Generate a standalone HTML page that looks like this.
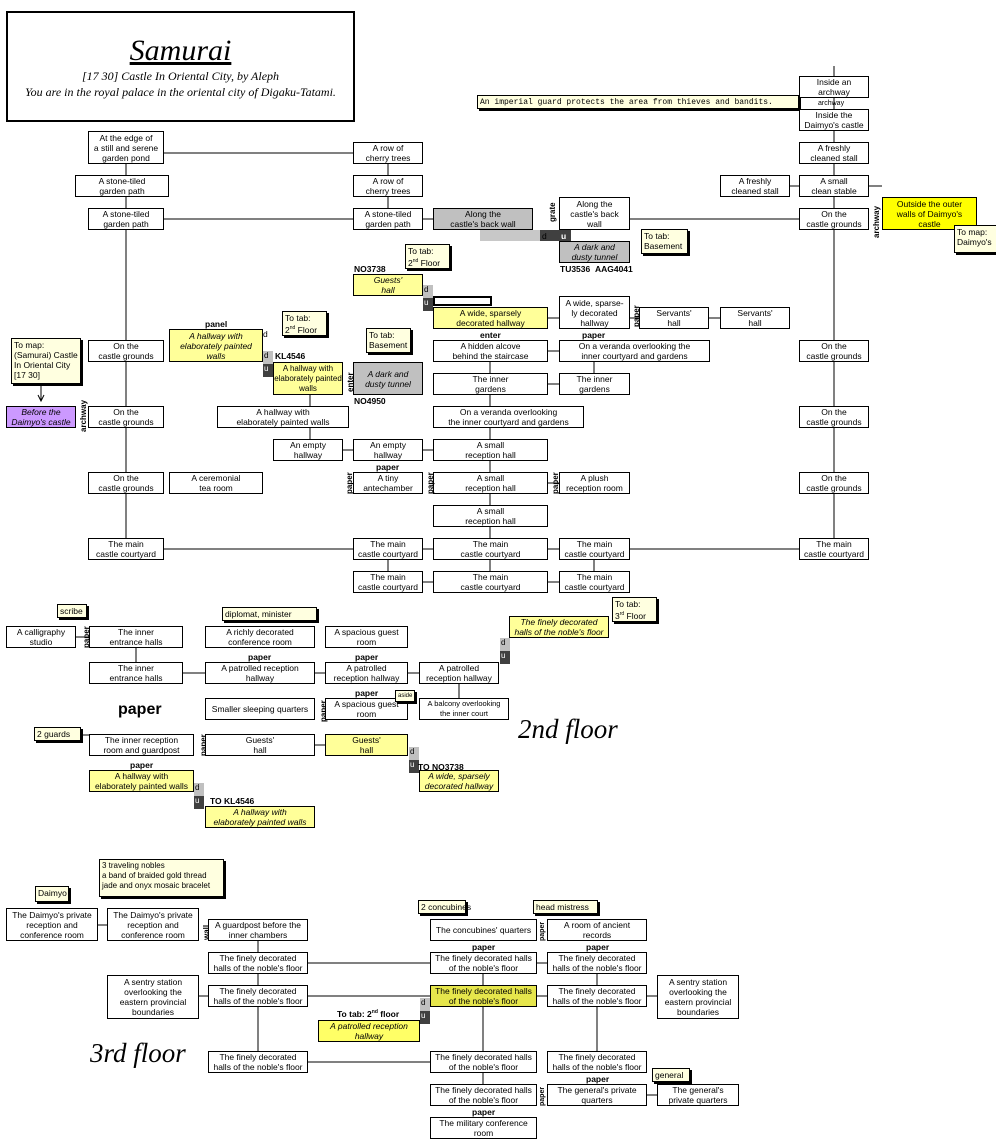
<!DOCTYPE html>
<html><head><meta charset="utf-8">
<style>
body{margin:0;width:996px;height:1146px;background:#fff;position:relative;overflow:hidden;font-family:"Liberation Sans",sans-serif;}
.b{position:absolute;box-sizing:border-box;border:1px solid #000;background:#fff;display:flex;align-items:center;justify-content:center;text-align:center;font-size:8.5px;line-height:10px;color:#000;}
.y{background:#ffff99;}
.g{background:#c0c0c0;}
.i{font-style:italic;}
.n{position:absolute;box-sizing:border-box;border:1px solid #000;background:#ffffe0;box-shadow:2px 2px 0 #000;font-size:8.5px;line-height:10px;padding:1px 2px;white-space:nowrap;}
.l{position:absolute;font-size:8.5px;font-weight:bold;white-space:nowrap;}
.v{position:absolute;font-size:8px;font-weight:bold;transform:rotate(-90deg);transform-origin:left top;}
.du{position:absolute;width:10px;font-size:8px;}
.du div{height:13px;color:#000;padding-left:1px;}
svg{position:absolute;left:0;top:0;}
.s{position:absolute;font-family:'Liberation Serif',serif;font-style:italic;font-size:27px;}
</style></head><body>
<svg width="996" height="1146" stroke="#000" stroke-width="1" fill="none">
<path d="M164 153H353M126 164V175M126 197V208M126 230V538M388 164V175M388 197V208M164 219H353M423 219H433M630 219H799M834 66V76M834 98V109M834 131V142M834 164V175M834 197V208M834 230V538M790 186H799M869 186H882M164 549H353M630 549H799M423 549H433M548 549H559M423 582H433M548 582H559M388 560V571M490 560V571M594 560V571"/>
<path d="M548 318H559M630 318H639M709 318H720M548 351H559M490 362V373M548 384H559M594 362V373M490 395V406M490 428V439M490 461V472M490 494V505M490 527V538M310 395V406M310 428V439M343 450H353M423 450H433M548 483H559"/>
<path d="M136 648V662M183 673H205M315 673H325M408 673H419M459 684V698M315 745H325M76 637H89"/>
<path d="M98 925H107M258 941V952M258 974V985M258 1007V1051M308 963H430M308 996H430M308 1062H430M199 996H208M537 963H547M537 996H547M647 996H657M483 974V985M483 1007V1051M483 1073V1084M597 974V985M597 1007V1051M647 1095H657"/>
<path d="M41 383L41 400M44 395l-3 6-3-6"/>
<path d="M81 735H192"/>
</svg>

<div class="b" style="left:6px;top:11px;width:349px;height:111px;border:2px solid #000;flex-direction:column;font-family:'Liberation Serif',serif;font-style:italic;">
<div style="font-size:30px;line-height:34px;text-decoration:underline;">Samurai</div>
<div style="font-size:12px;line-height:16px;">[17 30] Castle In Oriental City, by Aleph</div>
<div style="font-size:12px;line-height:16px;">You are in the royal palace in the oriental city of Digaku-Tatami.</div></div>

<div class="b" style="left:88px;top:131px;width:76px;height:33px">At the edge of<br>a still and serene<br>garden pond</div>
<div class="b" style="left:75px;top:175px;width:94px;height:22px">A stone-tiled<br>garden path</div>
<div class="b" style="left:88px;top:208px;width:76px;height:22px">A stone-tiled<br>garden path</div>
<div class="b" style="left:353px;top:142px;width:70px;height:22px">A row of<br>cherry trees</div>
<div class="b" style="left:353px;top:175px;width:70px;height:22px">A row of<br>cherry trees</div>
<div class="b" style="left:353px;top:208px;width:70px;height:22px">A stone-tiled<br>garden path</div>
<div class="b g" style="left:433px;top:208px;width:100px;height:22px">Along the<br>castle's back wall</div>
<div style="position:absolute;left:480px;top:230px;width:60px;height:11px;background:#c8c8c8"></div>
<div style="position:absolute;left:540px;top:230px;width:31px;height:11px;background:#404040"></div>
<div class="l" style="left:542px;top:231px;font-weight:normal">d</div>
<div class="l" style="left:561px;top:231px;color:#fff">u</div>
<div class="v" style="left:548px;top:222px">grate</div>
<div class="b" style="left:559px;top:197px;width:71px;height:33px">Along the<br>castle's back<br>wall</div>
<div class="b g i" style="left:559px;top:241px;width:71px;height:22px">A dark and<br>dusty tunnel</div>
<div class="l" style="left:560px;top:264px">TU3536 &nbsp;AAG4041</div>
<div class="n" style="left:641px;top:229px;width:47px;height:25px">To tab:<br>Basement</div>

<div class="n" style="left:477px;top:95px;width:322px;height:14px;font-family:'Liberation Mono',monospace;font-size:8px;line-height:11px">An imperial guard protects the area from thieves and bandits.</div>
<div class="b" style="left:799px;top:76px;width:70px;height:22px">Inside an<br>archway</div>
<div class="l" style="left:818px;top:100px;font-weight:normal;font-size:7px">archway</div>
<div class="b" style="left:799px;top:109px;width:70px;height:22px">Inside the<br>Daimyo's castle</div>
<div class="b" style="left:799px;top:142px;width:70px;height:22px">A freshly<br>cleaned stall</div>
<div class="b" style="left:799px;top:175px;width:70px;height:22px">A small<br>clean stable</div>
<div class="b" style="left:720px;top:175px;width:70px;height:22px">A freshly<br>cleaned stall</div>
<div class="b" style="left:799px;top:208px;width:70px;height:22px">On the<br>castle grounds</div>
<div class="v" style="left:872px;top:238px">archway</div>
<div class="b" style="left:882px;top:197px;width:95px;height:33px;background:#ffff00">Outside the outer<br>walls of Daimyo's<br>castle</div>
<div class="n" style="left:954px;top:225px;width:44px;height:28px">To map:<br>Daimyo's</div>

<div class="l" style="left:354px;top:264px">NO3738</div>
<div class="n" style="left:405px;top:244px;width:45px;height:25px">To tab:<br>2<sup style="font-size:5px">nd</sup> Floor</div>
<div class="b y i" style="left:353px;top:274px;width:70px;height:22px">Guests'<br>hall</div>
<div class="du" style="left:423px;top:285px"><div style="background:#c0c0c0">d</div><div style="background:#404040;color:#fff">u</div></div>
<div style="position:absolute;left:433px;top:296px;width:55px;height:6px;border:2px solid #000"></div>
<div class="b y" style="left:433px;top:307px;width:115px;height:22px">A wide, sparsely<br>decorated hallway</div>
<div class="l" style="left:480px;top:330px">enter</div>
<div class="b" style="left:559px;top:296px;width:71px;height:33px">A wide, sparse-<br>ly decorated<br>hallway</div>
<div class="l" style="left:582px;top:330px">paper</div>
<div class="v" style="left:632px;top:327px">paper</div>
<div class="b" style="left:639px;top:307px;width:70px;height:22px">Servants'<br>hall</div>
<div class="b" style="left:720px;top:307px;width:70px;height:22px">Servants'<br>hall</div>
<div class="b" style="left:433px;top:340px;width:115px;height:22px">A hidden alcove<br>behind the staircase</div>
<div class="b" style="left:559px;top:340px;width:151px;height:22px">On a veranda overlooking the<br>inner courtyard and gardens</div>
<div class="b" style="left:433px;top:373px;width:115px;height:22px">The inner<br>gardens</div>
<div class="b" style="left:559px;top:373px;width:71px;height:22px">The inner<br>gardens</div>
<div class="b" style="left:433px;top:406px;width:151px;height:22px">On a veranda overlooking<br>the inner courtyard and gardens</div>
<div class="b" style="left:433px;top:439px;width:115px;height:22px">A small<br>reception hall</div>
<div class="b" style="left:433px;top:472px;width:115px;height:22px">A small<br>reception hall</div>
<div class="b" style="left:433px;top:505px;width:115px;height:22px">A small<br>reception hall</div>
<div class="v" style="left:551px;top:494px">paper</div>
<div class="b" style="left:559px;top:472px;width:71px;height:22px">A plush<br>reception room</div>
<div class="b" style="left:353px;top:472px;width:70px;height:22px">A tiny<br>antechamber</div>
<div class="l" style="left:376px;top:462px">paper</div>
<div class="v" style="left:345px;top:494px">paper</div>
<div class="v" style="left:426px;top:494px">paper</div>
<div class="b" style="left:273px;top:439px;width:70px;height:22px">An empty<br>hallway</div>
<div class="b" style="left:353px;top:439px;width:70px;height:22px">An empty<br>hallway</div>
<div class="b" style="left:217px;top:406px;width:132px;height:22px">A hallway with<br>elaborately painted walls</div>
<div class="b y" style="left:273px;top:362px;width:70px;height:33px;font-size:8px">A hallway with<br>elaborately painted<br>walls</div>
<div class="l" style="left:275px;top:351px">KL4546</div>
<div class="du" style="left:263px;top:351px"><div style="background:#c0c0c0">d</div><div style="background:#404040;color:#fff">u</div></div>
<div class="l" style="left:205px;top:319px">panel</div>
<div class="b y i" style="left:169px;top:329px;width:94px;height:33px">A hallway with<br>elaborately painted<br>walls</div>
<div class="l" style="left:263px;top:329px;font-weight:normal">d</div>
<div class="n" style="left:282px;top:311px;width:45px;height:25px">To tab:<br>2<sup style="font-size:5px">nd</sup> Floor</div>
<div class="b g i" style="left:353px;top:362px;width:70px;height:33px">A dark and<br>dusty tunnel</div>
<div class="n" style="left:366px;top:328px;width:45px;height:25px">To tab:<br>Basement</div>
<div class="l" style="left:354px;top:396px">NO4950</div>
<div class="v" style="left:346px;top:392px">enter</div>
<div class="b" style="left:88px;top:340px;width:76px;height:22px">On the<br>castle grounds</div>
<div class="b" style="left:88px;top:406px;width:76px;height:22px">On the<br>castle grounds</div>
<div class="b" style="left:88px;top:472px;width:76px;height:22px">On the<br>castle grounds</div>
<div class="b" style="left:88px;top:538px;width:76px;height:22px">The main<br>castle courtyard</div>
<div class="b" style="left:169px;top:472px;width:94px;height:22px">A ceremonial<br>tea room</div>
<div class="n" style="left:11px;top:338px;width:70px;height:46px;text-align:left">To map:<br>(Samurai) Castle<br>In Oriental City<br>[17 30]</div>
<div class="b i" style="left:6px;top:406px;width:70px;height:22px;background:#cc99ff">Before the<br>Daimyo's castle</div>
<div class="v" style="left:79px;top:432px">archway</div>
<div class="b" style="left:799px;top:340px;width:70px;height:22px">On the<br>castle grounds</div>
<div class="b" style="left:799px;top:406px;width:70px;height:22px">On the<br>castle grounds</div>
<div class="b" style="left:799px;top:472px;width:70px;height:22px">On the<br>castle grounds</div>
<div class="b" style="left:799px;top:538px;width:70px;height:22px">The main<br>castle courtyard</div>
<div class="b" style="left:353px;top:538px;width:70px;height:22px">The main<br>castle courtyard</div>
<div class="b" style="left:433px;top:538px;width:115px;height:22px">The main<br>castle courtyard</div>
<div class="b" style="left:559px;top:538px;width:71px;height:22px">The main<br>castle courtyard</div>
<div class="b" style="left:353px;top:571px;width:70px;height:22px">The main<br>castle courtyard</div>
<div class="b" style="left:433px;top:571px;width:115px;height:22px">The main<br>castle courtyard</div>
<div class="b" style="left:559px;top:571px;width:71px;height:22px">The main<br>castle courtyard</div>

<div class="n" style="left:57px;top:604px;width:30px;height:14px">scribe</div>
<div class="b" style="left:6px;top:626px;width:70px;height:22px">A calligraphy<br>studio</div>
<div class="v" style="left:82px;top:648px">paper</div>
<div class="b" style="left:89px;top:626px;width:94px;height:22px">The inner<br>entrance halls</div>
<div class="b" style="left:89px;top:662px;width:94px;height:22px">The inner<br>entrance halls</div>
<div class="n" style="left:222px;top:607px;width:95px;height:14px">diplomat, minister</div>
<div class="b" style="left:205px;top:626px;width:110px;height:22px">A richly decorated<br>conference room</div>
<div class="b" style="left:325px;top:626px;width:83px;height:22px">A spacious guest<br>room</div>
<div class="l" style="left:248px;top:652px">paper</div>
<div class="l" style="left:355px;top:652px">paper</div>
<div class="b" style="left:205px;top:662px;width:110px;height:22px">A patrolled reception<br>hallway</div>
<div class="b" style="left:325px;top:662px;width:83px;height:22px">A patrolled<br>reception hallway</div>
<div class="b" style="left:419px;top:662px;width:80px;height:22px">A patrolled<br>reception hallway</div>
<div class="du" style="left:500px;top:638px"><div style="background:#c0c0c0">d</div><div style="background:#404040;color:#fff">u</div></div>
<div class="b y i" style="left:509px;top:616px;width:100px;height:22px">The finely decorated<br>halls of the noble's floor</div>
<div class="n" style="left:612px;top:597px;width:45px;height:25px">To tab:<br>3<sup style="font-size:5px">rd</sup> Floor</div>
<div style="position:absolute;left:118px;top:701px;font-size:16px;font-weight:bold">paper</div>
<div class="b" style="left:205px;top:698px;width:110px;height:22px">Smaller sleeping quarters</div>
<div class="v" style="left:319px;top:722px">paper</div>
<div class="l" style="left:355px;top:688px">paper</div>
<div class="b" style="left:325px;top:698px;width:83px;height:22px">A spacious guest<br>room</div>
<div class="n" style="left:395px;top:690px;width:20px;height:12px;font-size:6px;line-height:8px">aside</div>
<div class="b" style="left:419px;top:698px;width:90px;height:22px;font-size:7.5px">A balcony overlooking<br>the inner court</div>
<div class="s" style="left:518px;top:714px">2nd floor</div>
<div class="n" style="left:34px;top:727px;width:47px;height:14px">2 guards</div>
<div class="b" style="left:89px;top:734px;width:105px;height:22px">The inner reception<br>room and guardpost</div>
<div class="v" style="left:199px;top:756px">paper</div>
<div class="b" style="left:205px;top:734px;width:110px;height:22px">Guests'<br>hall</div>
<div class="b y" style="left:325px;top:734px;width:83px;height:22px">Guests'<br>hall</div>
<div class="du" style="left:409px;top:747px"><div style="background:#c0c0c0">d</div><div style="background:#404040;color:#fff">u</div></div>
<div class="l" style="left:418px;top:762px">TO NO3738</div>
<div class="b y i" style="left:419px;top:770px;width:80px;height:22px">A wide, sparsely<br>decorated hallway</div>
<div class="l" style="left:130px;top:760px">paper</div>
<div class="b y" style="left:89px;top:770px;width:105px;height:22px">A hallway with<br>elaborately painted walls</div>
<div class="du" style="left:194px;top:783px"><div style="background:#c0c0c0">d</div><div style="background:#404040;color:#fff">u</div></div>
<div class="l" style="left:210px;top:796px">TO KL4546</div>
<div class="b y i" style="left:205px;top:806px;width:110px;height:22px">A hallway with<br>elaborately painted walls</div>

<div class="n" style="left:99px;top:859px;width:125px;height:38px;font-size:8px">3 traveling nobles<br>a band of braided gold thread<br>jade and onyx mosaic bracelet</div>
<div class="n" style="left:35px;top:886px;width:34px;height:16px">Daimyo</div>
<div class="b" style="left:6px;top:908px;width:92px;height:33px">The Daimyo's private<br>reception and<br>conference room</div>
<div class="b" style="left:107px;top:908px;width:92px;height:33px">The Daimyo's private<br>reception and<br>conference room</div>
<div class="v" style="left:202px;top:940px">wall</div>
<div class="b" style="left:208px;top:919px;width:100px;height:22px">A guardpost before the<br>inner chambers</div>
<div class="n" style="left:418px;top:900px;width:48px;height:14px">2 concubines</div>
<div class="n" style="left:533px;top:900px;width:65px;height:14px">head mistress</div>
<div class="b" style="left:430px;top:919px;width:107px;height:22px">The concubines' quarters</div>
<div class="v" style="left:539px;top:941px;font-size:7px">paper</div>
<div class="b" style="left:547px;top:919px;width:100px;height:22px">A room of ancient<br>records</div>
<div class="l" style="left:472px;top:942px">paper</div>
<div class="l" style="left:586px;top:942px">paper</div>
<div class="b" style="left:208px;top:952px;width:100px;height:22px">The finely decorated<br>halls of the noble's floor</div>
<div class="b" style="left:430px;top:952px;width:107px;height:22px">The finely decorated halls<br>of the noble's floor</div>
<div class="b" style="left:547px;top:952px;width:100px;height:22px">The finely decorated<br>halls of the noble's floor</div>
<div class="b" style="left:107px;top:975px;width:92px;height:44px">A sentry station<br>overlooking the<br>eastern provincial<br>boundaries</div>
<div class="b" style="left:208px;top:985px;width:100px;height:22px">The finely decorated<br>halls of the noble's floor</div>
<div class="b" style="left:430px;top:985px;width:107px;height:22px;background:#e6e64c">The finely decorated halls<br>of the noble's floor</div>
<div class="b" style="left:547px;top:985px;width:100px;height:22px">The finely decorated<br>halls of the noble's floor</div>
<div class="b" style="left:657px;top:975px;width:82px;height:44px">A sentry station<br>overlooking the<br>eastern provincial<br>boundaries</div>
<div class="du" style="left:420px;top:998px"><div style="background:#c0c0c0">d</div><div style="background:#404040;color:#fff">u</div></div>
<div class="l" style="left:337px;top:1009px">To tab: 2<sup style="font-size:5px">nd</sup> floor</div>
<div class="b y i" style="left:318px;top:1020px;width:102px;height:22px;background:#ffff66">A patrolled reception<br>hallway</div>
<div class="s" style="left:90px;top:1038px">3rd floor</div>
<div class="b" style="left:208px;top:1051px;width:100px;height:22px">The finely decorated<br>halls of the noble's floor</div>
<div class="b" style="left:430px;top:1051px;width:107px;height:22px">The finely decorated halls<br>of the noble's floor</div>
<div class="b" style="left:547px;top:1051px;width:100px;height:22px">The finely decorated<br>halls of the noble's floor</div>
<div class="l" style="left:586px;top:1074px">paper</div>
<div class="n" style="left:652px;top:1068px;width:38px;height:14px">general</div>
<div class="b" style="left:430px;top:1084px;width:107px;height:22px">The finely decorated halls<br>of the noble's floor</div>
<div class="v" style="left:539px;top:1106px;font-size:7px">paper</div>
<div class="b" style="left:547px;top:1084px;width:100px;height:22px">The general's private<br>quarters</div>
<div class="b" style="left:657px;top:1084px;width:82px;height:22px">The general's<br>private quarters</div>
<div class="l" style="left:472px;top:1107px">paper</div>
<div class="b" style="left:430px;top:1117px;width:107px;height:22px">The military conference<br>room</div>
</body></html>
